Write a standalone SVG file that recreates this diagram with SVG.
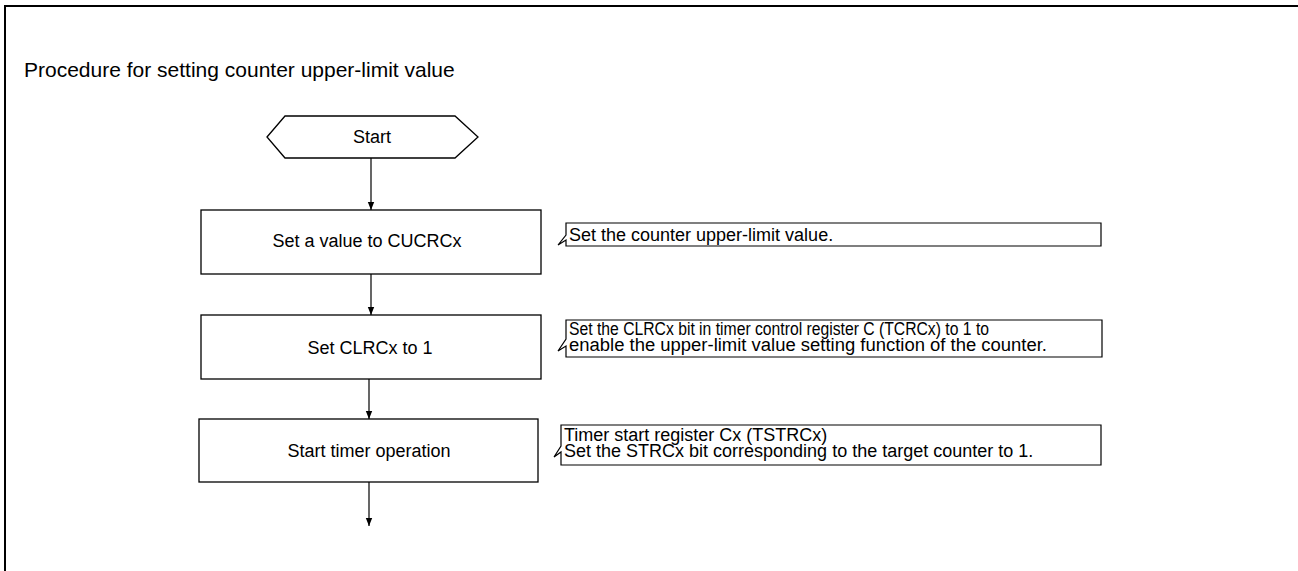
<svg xmlns="http://www.w3.org/2000/svg" width="1298" height="571" viewBox="0 0 1298 571">
<style>
text{font-family:"Liberation Sans",Arial,sans-serif;fill:#000}
.t{font-size:18px}
.c{text-anchor:middle}
.box{fill:#fff;stroke:#000;stroke-width:1.3}
.note{fill:#fff;stroke:#000;stroke-width:1.2}
.ln{stroke:#000;stroke-width:1.2;fill:none}
</style>
<defs>
<marker id="arr" markerWidth="8" markerHeight="9" refX="8" refY="4" orient="auto" markerUnits="userSpaceOnUse">
<path d="M0,0.8 L8,4 L0,7.2 Z" fill="#000"/>
</marker>
</defs>
<rect x="0" y="0" width="1298" height="571" fill="#fff"/>
<rect id="frame" x="5" y="6" width="1320" height="600" fill="none" stroke="#000" stroke-width="2"/>
<text id="title" x="24" y="77" style="font-size:21px">Procedure for setting counter upper-limit value</text>
<g id="connectors">
<line class="ln" x1="371" y1="158" x2="371" y2="210" marker-end="url(#arr)"/>
<line class="ln" x1="371" y1="274" x2="371" y2="315" marker-end="url(#arr)"/>
<line class="ln" x1="369" y1="379" x2="369" y2="419" marker-end="url(#arr)"/>
<line class="ln" x1="369" y1="482" x2="369" y2="526" marker-end="url(#arr)"/>
</g>
<g id="start">
<polygon class="box" points="267,137 285,116 455,116 478,137 455,158 285,158"/>
<text class="t c" x="372" y="143">Start</text>
</g>
<g id="step1">
<rect class="box" x="201" y="210" width="340" height="64"/>
<text class="t c" x="367" y="247">Set a value to CUCRCx</text>
</g>
<g id="step2">
<rect class="box" x="201" y="315" width="340" height="64"/>
<text class="t c" x="370" y="354">Set CLRCx to 1</text>
</g>
<g id="step3">
<rect class="box" x="199" y="419" width="339" height="63"/>
<text class="t c" x="369" y="457">Start timer operation</text>
</g>
<g id="note1">
<path class="note" d="M566,223 H1101 V246 H566 V240 L558,245 L566,235 Z"/>
<text class="t" x="569" y="241">Set the counter upper-limit value.</text>
</g>
<g id="note2">
<path class="note" d="M566,320 H1102 V357 H566 V346 L558,351 L566,339 Z"/>
<text class="t" x="569" y="335" textLength="420" lengthAdjust="spacingAndGlyphs">Set the CLRCx bit in timer control register C (TCRCx) to 1 to</text>
<text class="t" x="569" y="351" textLength="478" lengthAdjust="spacingAndGlyphs">enable the upper-limit value setting function of the counter.</text>
</g>
<g id="note3">
<path class="note" d="M561,425 H1101 V465 H561 V452 L554,457 L561,446 Z"/>
<text class="t" x="564" y="441">Timer start register Cx (TSTRCx)</text>
<text class="t" x="564" y="457">Set the STRCx bit corresponding to the target counter to 1.</text>
</g>
</svg>
